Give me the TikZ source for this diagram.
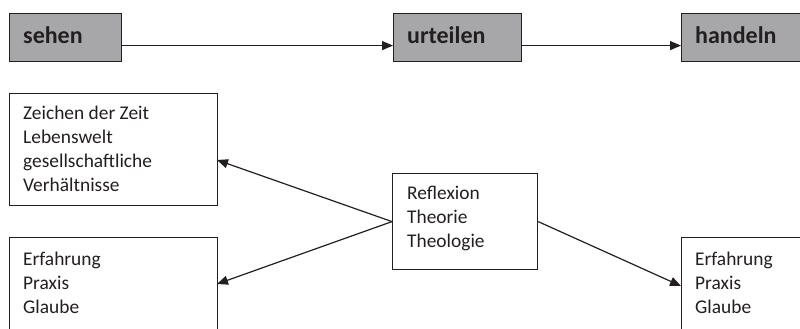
\documentclass[tikz,border=0pt]{standalone}
\usepackage{fontspec}
\setmainfont{Carlito}
\usetikzlibrary{arrows.meta}
\definecolor{boxgray}{HTML}{A7A7AA}
\definecolor{ink}{HTML}{231F20}
\tikzset{
  gbox/.style={draw=ink, line width=1.2pt, fill=boxgray, anchor=north west, inner sep=0pt},
  wbox/.style={draw=ink, line width=1.2pt, fill=white, anchor=north west, inner sep=0pt},
  head/.style={anchor=base west, inner sep=0pt, text=ink, font=\fontsize{24}{28}\selectfont\bfseries},
  body/.style={anchor=base west, inner sep=0pt, text=ink, font=\fontsize{19.4}{24}\selectfont},
  arr/.style={draw=ink, line width=1.2pt, -{Triangle[length=11pt,width=9pt]}}
}
\newcommand{\lines}[1]{\parbox[t]{200pt}{\fontsize{19.4}{24}\selectfont #1}}
\begin{document}
\begin{tikzpicture}[x=1pt,y=-1pt]
\useasboundingbox (0,0) rectangle (800,329);
% top row
\node[gbox, minimum width=112pt, minimum height=48pt] (sehen) at (9,13) {};
\node[gbox, minimum width=128pt, minimum height=48pt] (urteilen) at (393,13) {};
\node[gbox, minimum width=130pt, minimum height=48pt] (handeln) at (681,13) {};
\node[head] (tsehen) at (23,44) {sehen};
\node[head] (turteilen) at (407,44) {urteilen};
\node[head] (thandeln) at (695,44) {handeln};
\draw[arr] ([yshift=-8pt]sehen.east) -- ([yshift=-8pt]urteilen.west);
\draw[arr] ([yshift=-8pt]urteilen.east) -- ([yshift=-8pt]handeln.west);
% lower boxes
\node[wbox, minimum width=208pt, minimum height=112pt] (zeit) at (9,93) {};
\node[wbox, minimum width=208pt, minimum height=110pt] (erfl) at (9,237) {};
\node[wbox, minimum width=145pt, minimum height=96pt] (refl) at (392,173) {};
\node[wbox, minimum width=130pt, minimum height=110pt] (erfr) at (681,237) {};
\node[body] (tzeit) at (23,119) {\lines{Zeichen der Zeit\\Lebenswelt\\gesellschaftliche\\Verhältnisse}};
\node[body] (terfl) at (23,265) {\lines{Erfahrung\\Praxis\\Glaube}};
\node[body] (trefl) at (407,199) {\lines{Reflexion\\Theorie\\Theologie}};
\node[body] (terfr) at (695,265) {\lines{Erfahrung\\Praxis\\Glaube}};
\coordinate (pz) at (217,160);
\coordinate (pl) at (217,284);
\coordinate (pr) at (681,286);
\draw[arr] (refl.west) -- (pz);
\draw[arr] (refl.west) -- (pl);
\draw[arr] (refl.east) -- (pr);
\end{tikzpicture}
\end{document}
